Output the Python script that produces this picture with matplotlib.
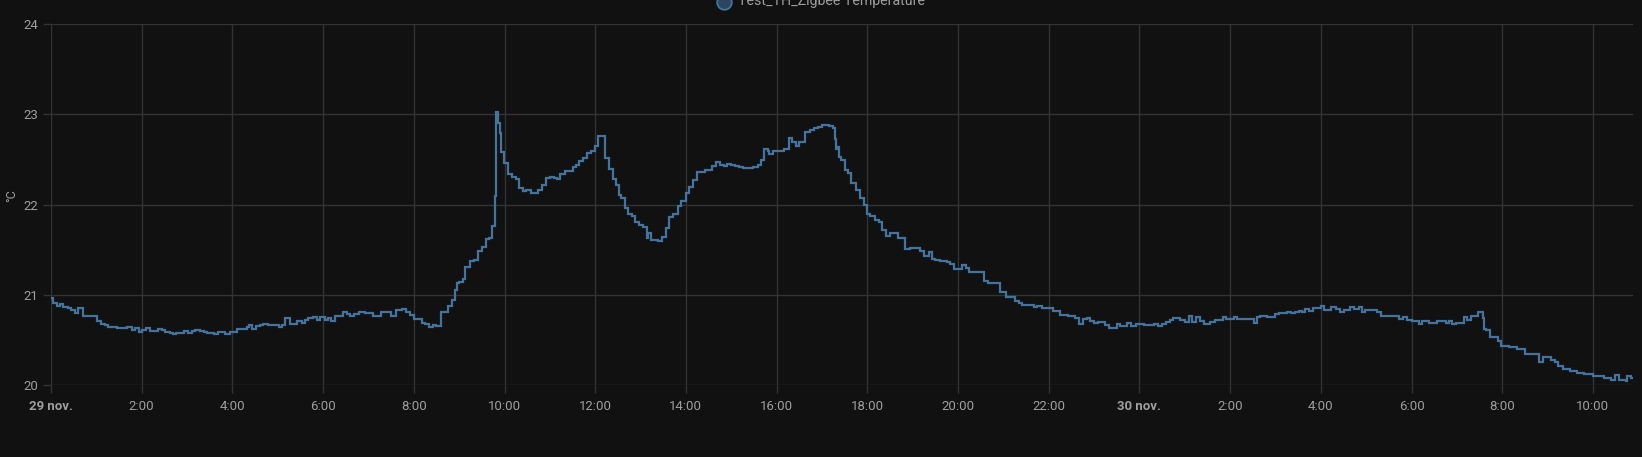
import numpy as np
import matplotlib
matplotlib.use('Agg')
import matplotlib.pyplot as plt
from matplotlib.lines import Line2D

# minutes since 29 nov 00:00 and temperature readings (°C)
minutes = [0, 2, 8, 12, 16, 23, 27, 32, 36, 42, 47, 52, 61, 66, 71, 76, 87, 101, 107, 111,
           117, 121, 126, 131, 142, 147, 151, 157, 162, 166, 176, 181, 186, 191, 197, 203, 207, 216, 221, 230,
           237, 246, 259, 262, 266, 271, 277, 281, 287, 292, 301, 305, 310, 316, 326, 332, 336, 340, 347, 352,
           356, 362, 366, 370, 376, 386, 391, 396, 401, 407,
           415, 426, 436, 450, 456, 465, 470, 475, 480, 491, 495, 500, 505, 510, 516, 525, 530, 535, 537, 540,
           545, 548, 555, 560, 565, 570, 575, 580, 584, 588, 589, 592, 594, 596, 599, 604, 610, 615, 619, 625,
           629, 635, 644, 649, 655, 660, 665, 670, 674, 680, 690, 695, 699, 704, 709, 715, 720, 724, 733, 738,
           743, 748, 751, 754, 759, 764, 769, 773, 778, 783, 788, 790, 794, 803, 808, 814, 818, 823,
           830, 834, 840, 844, 850, 855, 865, 875, 880, 885, 890, 894, 900, 905, 910, 915, 929, 935, 939, 943,
           948, 950, 955, 970, 977, 980, 985, 990, 998, 1004, 1009, 1015, 1020, 1029, 1034, 1037, 1039, 1041, 1043, 1045,
           1050, 1054, 1059, 1065, 1070, 1075, 1080, 1084, 1090, 1095, 1100, 1105, 1110, 1120, 1130, 1136, 1150, 1155,
           1161, 1165, 1170, 1176, 1185, 1190, 1195, 1200, 1205, 1210, 1214, 1235, 1240,
           1256, 1264, 1270, 1275, 1281, 1285, 1300, 1305, 1311, 1325, 1335, 1345, 1350, 1355, 1360, 1365, 1370, 1375,
           1380, 1385, 1395, 1400, 1410, 1414, 1424, 1429, 1435, 1446, 1450, 1459, 1464, 1470, 1475, 1481, 1485, 1494,
           1500, 1505, 1510, 1515, 1520, 1525, 1534, 1540, 1550, 1555, 1565, 1569, 1591, 1595, 1599, 1609, 1620, 1625,
           1635, 1640, 1646, 1651, 1655, 1659,
           1664, 1670, 1680, 1684, 1694, 1700, 1705, 1710, 1719, 1724, 1730, 1734, 1739, 1754, 1759, 1770, 1784, 1789,
           1794, 1800, 1810, 1814, 1823, 1834, 1845, 1850, 1854, 1859, 1870, 1874, 1879, 1888, 1894, 1896, 1898, 1904,
           1914, 1919, 1929, 1939, 1950, 1969, 1974, 1984, 1990, 1994, 2000, 2009, 2015, 2019, 2028, 2040, 2055, 2064,
           2069, 2074, 2084, 2085, 2090, 2093]

temps = [20.96, 20.91, 20.88, 20.90, 20.86, 20.85, 20.83, 20.80, 20.85, 20.77, 20.76, 20.77, 20.71, 20.68, 20.66, 20.64, 20.63, 20.64, 20.61, 20.63,
         20.59, 20.61, 20.63, 20.60, 20.62, 20.61, 20.59, 20.58, 20.56, 20.58, 20.60, 20.58, 20.60, 20.61, 20.60, 20.59, 20.58, 20.56, 20.59, 20.57,
         20.59, 20.62, 20.64, 20.66, 20.62, 20.65, 20.67, 20.68, 20.66, 20.67, 20.64, 20.67, 20.74, 20.68, 20.71, 20.69, 20.72, 20.74, 20.75, 20.72,
         20.75, 20.72, 20.74, 20.71, 20.77, 20.81, 20.79, 20.76, 20.79, 20.81,
         20.80, 20.77, 20.81, 20.77, 20.83, 20.845, 20.81, 20.78, 20.73, 20.69, 20.68, 20.64, 20.67, 20.65, 20.81, 20.87, 20.94, 21.05, 21.13, 21.14,
         21.18, 21.31, 21.37, 21.39, 21.48, 21.53, 21.62, 21.63, 21.76, 22.09, 23.02, 22.90, 22.79, 22.58, 22.46, 22.34, 22.30, 22.28, 22.18, 22.15,
         22.16, 22.13, 22.16, 22.22, 22.29, 22.30, 22.29, 22.28, 22.34, 22.37, 22.41, 22.44, 22.48, 22.51, 22.57, 22.59, 22.65, 22.76, 22.52, 22.39,
         22.28, 22.22, 22.11, 22.07, 21.96, 21.90, 21.87, 21.81, 21.77, 21.75, 21.63, 21.68, 21.61, 21.60, 21.64, 21.74, 21.86, 21.89,
         21.98, 22.04, 22.13, 22.19, 22.27, 22.36, 22.38, 22.43, 22.47, 22.44, 22.43, 22.45, 22.44, 22.43, 22.41, 22.40, 22.42, 22.44, 22.49, 22.61,
         22.59, 22.56, 22.59, 22.61, 22.74, 22.69, 22.65, 22.69, 22.80, 22.83, 22.85, 22.86, 22.88, 22.87, 22.85, 22.73, 22.61, 22.64, 22.53, 22.49,
         22.38, 22.35, 22.24, 22.16, 22.07, 21.99, 21.90, 21.87, 21.83, 21.81, 21.72, 21.65, 21.68, 21.63, 21.51, 21.52, 21.48, 21.43,
         21.47, 21.40, 21.38, 21.37, 21.36, 21.34, 21.28, 21.29, 21.33, 21.30, 21.25, 21.15, 21.13,
         21.03, 20.97, 20.98, 20.93, 20.91, 20.89, 20.86, 20.87, 20.85, 20.82, 20.78, 20.77, 20.76, 20.74, 20.68, 20.73, 20.74, 20.71,
         20.69, 20.70, 20.67, 20.63, 20.68, 20.65, 20.69, 20.65, 20.68, 20.67, 20.66, 20.68, 20.65, 20.68, 20.70, 20.72, 20.74, 20.72,
         20.70, 20.76, 20.70, 20.75, 20.71, 20.68, 20.70, 20.72, 20.75, 20.73, 20.75, 20.73, 20.69, 20.75, 20.76, 20.75, 20.79, 20.80,
         20.81, 20.80, 20.81, 20.82, 20.81, 20.84,
         20.82, 20.85, 20.87, 20.83, 20.86, 20.84, 20.81, 20.83, 20.86, 20.84, 20.86, 20.81, 20.83, 20.81, 20.77, 20.76, 20.73, 20.75,
         20.72, 20.71, 20.68, 20.71, 20.69, 20.71, 20.69, 20.71, 20.68, 20.69, 20.75, 20.72, 20.76, 20.81, 20.74, 20.62, 20.61, 20.53,
         20.49, 20.43, 20.42, 20.40, 20.34, 20.26, 20.31, 20.28, 20.25, 20.21, 20.18, 20.16, 20.15, 20.13, 20.12, 20.10, 20.08, 20.06,
         20.11, 20.06, 20.04, 20.10, 20.08, 20.08]

series_name = "Test_TH_Zigbee Temperature"
y_ticks = [20, 21, 22, 23, 24]
x_end = 2093

bg = '#111111'
grid_c = '#333333'
text_c = '#9e9e9e'
line_c = '#44739e'

plt.rcParams['font.family'] = ['Roboto', 'DejaVu Sans']

W, H = 1642, 457
fig = plt.figure(figsize=(W / 100, H / 100), dpi=100, facecolor=bg)
ax = fig.add_axes([51 / W, 1 - 385 / H, (1633 - 51) / W, (385 - 24) / H])
ax.set_facecolor(bg)

ax.plot(minutes, temps, drawstyle='steps-post', color=line_c, lw=1.6, solid_joinstyle='miter')

ax.set_xlim(0, x_end)
ax.set_ylim(20, 24)
ax.set_yticks(y_ticks)
ax.set_yticklabels([str(v) for v in y_ticks])

xt = list(range(0, x_end, 120))
labels = []
for m in xt:
    if m == 0:
        labels.append('29 nov.')
    elif m == 1440:
        labels.append('30 nov.')
    else:
        labels.append(f"{(m // 60) % 24}:00")
ax.set_xticks(xt)
ax.set_xticklabels(labels)
for lab in ax.get_xticklabels():
    if 'nov' in lab.get_text():
        lab.set_fontweight('bold')
        lab.set_color('#b4b4b4')

for s in ax.spines.values():
    s.set_visible(False)
ax.grid(True, color=grid_c, lw=1)
ax.set_axisbelow(True)
ax.tick_params(colors=grid_c, labelcolor=text_c, labelsize=9.5, length=6, width=1, pad=3)
ax.tick_params(axis='x', pad=5)

# unit label, centred ~12 px from the left edge
fig.text(12 / W, 1 - 196 / H, '°C', color=text_c, fontsize=9, rotation=90,
         ha='center', va='center')

# legend (partially cut off at the top edge)
fig.add_artist(Line2D([724 / W], [1 - 2 / H], transform=fig.transFigure, marker='o',
                      markersize=10.5, markerfacecolor='#2c4660', markeredgecolor=line_c,
                      markeredgewidth=1.3, linestyle='none'))
fig.text(738 / W, 1 - 5 / H, series_name, color=text_c, fontsize=10.2,
         ha='left', va='baseline')

fig.savefig('out.png', dpi=100, facecolor=bg)
